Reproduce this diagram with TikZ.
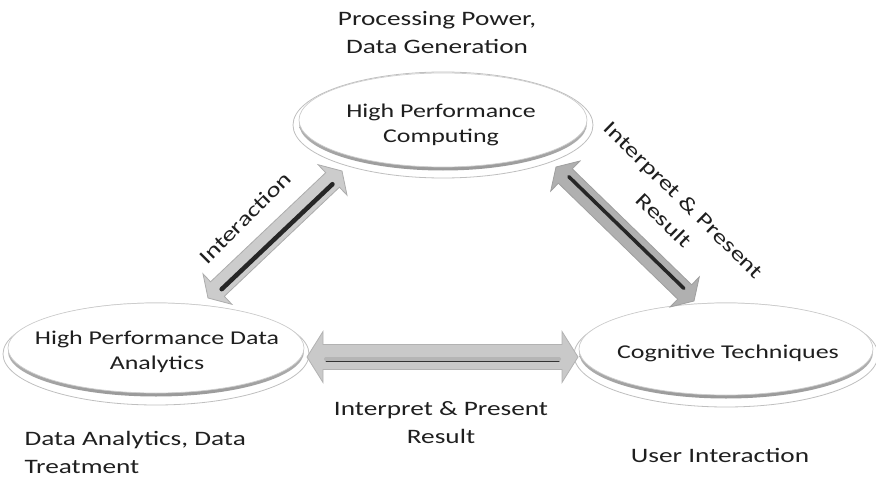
\documentclass[tikz,border=0pt]{standalone}
\usepackage{fontspec}
\setmainfont{Carlito}[FakeStretch=1.33]
\usetikzlibrary{shapes.geometric,calc}

% #1 tip a, #2 tip b, #3 head length, #4 half head width, #5 half shaft width, #6 fill, #7 border
\newcommand\fatarrow[7]{%
  \coordinate (#1h) at ($(#1)!#3!(#2)$);
  \coordinate (#2h) at ($(#2)!#3!(#1)$);
  \filldraw[fill=#6, draw=#7, line width=0.8pt, line join=miter] (#1)
    -- ($(#1h)!#4!90:(#2)$) -- ($(#1h)!#5!90:(#2)$)
    -- ($(#2h)!#5!-90:(#1)$) -- ($(#2h)!#4!-90:(#1)$)
    -- (#2)
    -- ($(#2h)!#4!90:(#1)$) -- ($(#2h)!#5!90:(#1)$)
    -- ($(#1h)!#5!-90:(#2)$) -- ($(#1h)!#4!-90:(#2)$) -- cycle;
}

\begin{document}
\begin{tikzpicture}[x=1pt,y=-1pt,
  ell/.style={ellipse, draw=gray!40, line width=0.7pt, inner sep=0pt, fill=white},
  ring/.style={draw=gray!50, line width=0.8pt, fill=white},
  rim/.style={top color=gray!35, bottom color=gray!80},
  txt/.style={align=center, font=\fontsize{19.5}{25}\selectfont, text=black!88},
  lbl/.style={align=center, font=\fontsize{20.5}{28}\selectfont, text=black!88},
  inner/.style={line cap=round, shorten <=3pt, shorten >=3pt},
]
\useasboundingbox (0,0) rectangle (876,495);

% ellipse centres
\coordinate (hpcc) at (443,120);
\coordinate (hpdac) at (156,348);
\coordinate (cogc) at (726,349);

% top ellipse
\path[ring] ([yshift=-5pt]hpcc) ellipse [x radius=150pt, y radius=53pt];
\path[rim] ([yshift=-3.5pt]hpcc) ellipse [x radius=144pt, y radius=47pt];
\node[ell, minimum width=288pt, minimum height=94pt] (hpc) at (hpcc) {};

% left ellipse
\path[ring] ([yshift=-6pt]hpdac) ellipse [x radius=153pt, y radius=51pt];
\path[rim] ([yshift=-3.5pt]hpdac) ellipse [x radius=148pt, y radius=45pt];
\node[ell, minimum width=296pt, minimum height=90pt] (hpda) at (hpdac) {};

% right ellipse
\path[ring] ([yshift=-6pt]cogc) ellipse [x radius=152pt, y radius=52pt];
\path[rim] ([yshift=-3.5pt]cogc) ellipse [x radius=147pt, y radius=46pt];
\node[ell, minimum width=294pt, minimum height=92pt] (cog) at (cogc) {};

% arrows
\coordinate (la) at (208,298);
\coordinate (lb) at (342,171);
\fatarrow{la}{lb}{13pt}{21pt}{10pt}{gray!40}{gray!65}
\coordinate (lai) at ($(lah)!3pt!-90:(lb)$);
\coordinate (lbi) at ($(lbh)!3pt!90:(la)$);
\draw[inner, line width=4.5pt, gray!30!black] (lai) -- (lbi);

\coordinate (ra) at (556,167);
\coordinate (rb) at (694,301);
\fatarrow{ra}{rb}{13pt}{21pt}{10pt}{gray!62}{gray!75}
\coordinate (rai) at ($(rah)!2pt!90:(rb)$);
\coordinate (rbi) at ($(rbh)!2pt!-90:(ra)$);
\draw[inner, line width=3.5pt, black!85] (rai) -- (rbi);

\coordinate (ha) at (307,357);
\coordinate (hb) at (578,357);
\fatarrow{ha}{hb}{16pt}{25.5pt}{12.5pt}{gray!42}{gray!60}
\coordinate (hai) at ($(hah)!2pt!-90:(hb)$);
\coordinate (hbi) at ($(hbh)!2pt!90:(ha)$);
\draw[inner, line width=4pt, gray!58] (hai) -- (hbi);
\coordinate (haj) at ($(hah)!4pt!-90:(hb)$);
\coordinate (hbj) at ($(hbh)!4pt!90:(ha)$);
\draw[inner, line width=1pt, gray!40!black] (haj) -- (hbj);

% texts in ellipses
\node[txt] (hpct) at (441,124.5) {High Performance\\Computing};
\node[txt] (hpdat) at (157,352) {High Performance Data\\Analytics};
\node[txt] (cogt) at (728,353) {Cognitive Techniques};

% labels
\node[lbl] (pp) at (437,33) {Processing Power,\\Data Generation};
\node[lbl, align=left, anchor=west] (dat) at (21,452.5) {Data Analytics, Data\\Treatment};
\node[lbl] (irb) at (441,422.5) {Interpret \& Present\\Result};
\node[lbl] (ui) at (720,455) {User Interaction};
\node[lbl, rotate=45] (ia) at (245,218) {Interaction};
\node[lbl, rotate=-44.5] (irr) at (674,210) {Interpret \& Present\\Result};
\end{tikzpicture}
\end{document}
